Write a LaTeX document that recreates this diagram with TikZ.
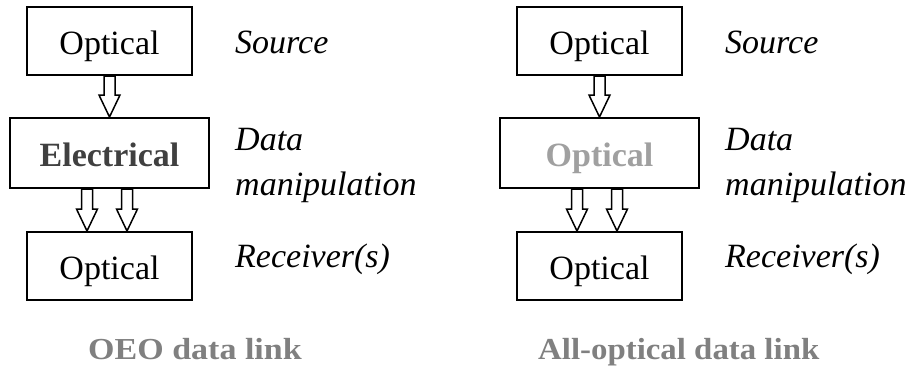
\documentclass[tikz,border=0pt]{standalone}
\usepackage{fontspec}
\setmainfont{Liberation Serif}
\usetikzlibrary{calc}
\definecolor{elgray}{RGB}{64,64,64}
\definecolor{opgray}{RGB}{160,160,160}
\definecolor{titlegray}{RGB}{128,128,128}
\tikzset{
  stage/.style={draw,line width=2pt,minimum width=165pt,minimum height=68pt,inner sep=0pt,
    text height=30pt,text depth=3pt,font=\fontsize{34}{40}\selectfont},
  widestage/.style={stage,minimum width=199pt,minimum height=70pt},
  role/.style={anchor=base west,inner sep=0pt,font=\fontsize{34}{45}\selectfont\itshape,align=left},
  linktitle/.style={anchor=base west,inner sep=0pt,text=titlegray,font=\fontsize{30.5}{36}\selectfont\bfseries},
  fatarrow/.style={draw,line width=1.5pt,fill=white,line join=miter}
}
% hollow block arrow from #1 down to #2
\newcommand{\fatarrow}[2]{%
  \draw[fatarrow] let \p1=(#1), \p2=(#2) in
    (\x1-5.5pt,\y1) -- (\x1-5.5pt,\y2+22pt) -- (\x1-10.5pt,\y2+22pt) -- (\x1,\y2)
    -- (\x1+10.5pt,\y2+22pt) -- (\x1+5.5pt,\y2+22pt) -- (\x1+5.5pt,\y1) -- cycle;}
\begin{document}
\begin{tikzpicture}[x=1pt,y=-1pt]
  \useasboundingbox (0,0) rectangle (913,372);
  % OEO link
  \node[stage] (src1) at (109.5,41) {Optical};
  \node[widestage] (mid1) at (109.5,153) {\bfseries\color{elgray}Electrical};
  \node[stage] (rcv1) at (109.5,266) {Optical};
  \fatarrow{src1.south}{mid1.north}
  \fatarrow{$(mid1.south)+(-22.5,0)$}{$(rcv1.north)+(-22.5,0)$}
  \fatarrow{$(mid1.south)+(17.5,0)$}{$(rcv1.north)+(17.5,0)$}
  \node[role] (s1) at (235,53) {Source};
  \node[role] (d1) at (235,195) {Data\\manipulation};
  \node[role] (r1) at (235,267) {Receiver(s)};
  \node[linktitle] (t1) at (88,359) {\scalebox{1.115}[1]{OEO data link}};
  % all-optical link
  \node[stage] (src2) at (599.5,41) {Optical};
  \node[widestage] (mid2) at (599.5,153) {\bfseries\color{opgray}Optical};
  \node[stage] (rcv2) at (599.5,266) {Optical};
  \fatarrow{src2.south}{mid2.north}
  \fatarrow{$(mid2.south)+(-22.5,0)$}{$(rcv2.north)+(-22.5,0)$}
  \fatarrow{$(mid2.south)+(17.5,0)$}{$(rcv2.north)+(17.5,0)$}
  \node[role] (s2) at (725,53) {Source};
  \node[role] (d2) at (725,195) {Data\\manipulation};
  \node[role] (r2) at (725,267) {Receiver(s)};
  \node[linktitle] (t2) at (538,359) {\scalebox{1.077}[1]{All-optical data link}};
\end{tikzpicture}
\end{document}
